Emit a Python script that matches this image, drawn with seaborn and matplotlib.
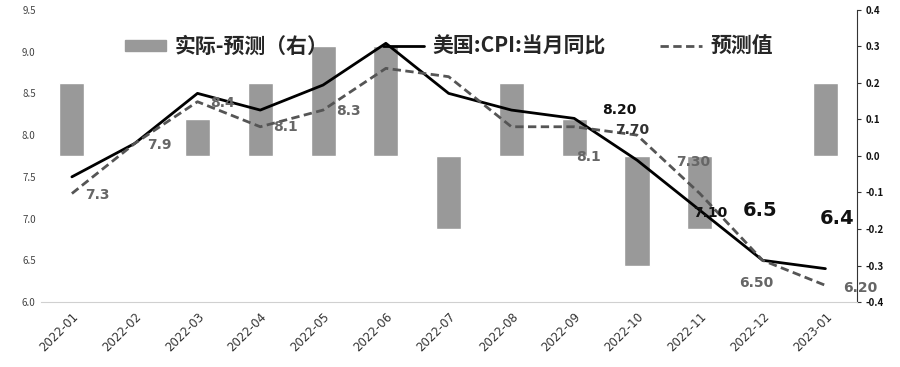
import numpy as np
import pandas as pd
import matplotlib
matplotlib.use("Agg")
import matplotlib.pyplot as plt
import seaborn as sns
from matplotlib.ticker import MultipleLocator, FixedLocator, FormatStrFormatter
from matplotlib.patches import Patch

months = ["2022-01", "2022-02", "2022-03", "2022-04", "2022-05", "2022-06", "2022-07",
          "2022-08", "2022-09", "2022-10", "2022-11", "2022-12", "2023-01"]
cpi_actual = [7.5, 7.9, 8.5, 8.3, 8.6, 9.1, 8.5, 8.3, 8.2, 7.7, 7.1, 6.5, 6.4]
cpi_forecast = [7.3, 7.9, 8.4, 8.1, 8.3, 8.8, 8.7, 8.1, 8.1, 8.0, 7.3, 6.5, 6.2]
diff = [0.2, 0.0, 0.1, 0.2, 0.3, 0.3, -0.2, 0.2, 0.1, -0.3, -0.2, 0.0, 0.2]

# point labels: (text, x index, y on left axis, colour, size)
labels = [
    ("7.3", 0.40, 7.28, "#666666", 10),
    ("7.9", 1.40, 7.88, "#666666", 10),
    ("8.4", 2.40, 8.38, "#666666", 10),
    ("8.1", 3.40, 8.10, "#666666", 10),
    ("8.3", 4.40, 8.29, "#666666", 10),
    ("8.1", 8.22, 7.74, "#666666", 10),
    ("8.20", 8.71, 8.30, "#111111", 10),
    ("7.70", 8.92, 8.06, "#333333", 10),
    ("7.30", 9.89, 7.68, "#666666", 10),
    ("7.10", 10.16, 7.07, "#111111", 10),
    ("6.5", 10.96, 7.10, "#111111", 14),
    ("6.4", 12.18, 7.00, "#111111", 14),
    ("6.50", 10.90, 6.23, "#666666", 10),
    ("6.20", 12.55, 6.17, "#666666", 10),
]

df = pd.DataFrame({"month": months, "pos": np.arange(len(months)),
                   "actual": cpi_actual, "forecast": cpi_forecast, "diff": diff})

sns.set_style("white")
plt.rcParams["font.family"] = ["Noto Sans CJK SC", "DejaVu Sans"]

fig = plt.figure(figsize=(9, 3.67), dpi=100)
ax = fig.add_axes([0.045, 0.177, 0.907, 0.796])
ax2 = ax.twinx()

# bars on the right axis, drawn behind the lines
sns.barplot(data=df, x="pos", y="diff", ax=ax2, color="#999999", width=0.4,
            saturation=1, legend=False)
ax2.set_zorder(ax.get_zorder() - 1)
ax.patch.set_visible(False)

sns.lineplot(data=df, x="pos", y="actual", ax=ax, color="black", lw=2,
             label="美国:CPI:当月同比")
sns.lineplot(data=df, x="pos", y="forecast", ax=ax, color="#555555", lw=2,
             linestyle=(0, (3, 1.6)), label="预测值")

for txt, x, y, c, s in labels:
    ax.text(x, y, txt, color=c, fontsize=s, fontweight="bold", ha="center", va="center",
            family="DejaVu Sans")

ax.set_xlim(-0.5, len(months) - 0.5)
ax.set_ylim(6.0, 9.5)
ax2.set_ylim(-0.4, 0.4)
ax.yaxis.set_major_locator(MultipleLocator(0.5))
ax2.yaxis.set_major_locator(MultipleLocator(0.1))
ax.yaxis.set_major_formatter(FormatStrFormatter("%.1f"))
ax2.yaxis.set_major_formatter(FormatStrFormatter("%.1f"))

ax.set_xticks(np.arange(len(months)))
ax.set_xticklabels(months, rotation=45, fontsize=8.5, color="#333333", family="DejaVu Sans",
                   ha="right", rotation_mode="anchor")
ax.xaxis.set_minor_locator(FixedLocator(np.arange(-0.5, len(months), 1.0)))
ax.tick_params(axis="x", which="major", length=0, pad=6)
ax.tick_params(axis="x", which="minor", length=4, color="#d0d0d0", width=0.8)
ax.tick_params(axis="y", length=0, labelsize=7, labelcolor="#444444")
ax2.tick_params(axis="y", length=3, width=0.8, color="#333333", labelsize=7, labelcolor="#111111")
for lab in ax2.get_yticklabels():
    lab.set_fontweight("bold")

for a in (ax, ax2):
    for side in ("top", "left", "right"):
        a.spines[side].set_visible(False)
    a.set_xlabel("")
    a.set_ylabel("")
ax.spines["bottom"].set_color("#d0d0d0")
ax2.spines["bottom"].set_visible(False)
ax2.spines["right"].set_visible(True)
ax2.spines["right"].set_color("#333333")
ax2.spines["right"].set_linewidth(0.8)

h2, l2 = ax.get_legend_handles_labels()
handles = [Patch(color="#999999")] + h2
names = ["实际-预测（右）"] + l2
ax.legend(handles, names, loc="center", bbox_to_anchor=(0.5, 0.875), ncol=3, frameon=False,
          prop={"size": 15, "weight": "bold"}, handlelength=2.0, handleheight=0.5,
          columnspacing=2.6, handletextpad=0.4)

plt.savefig("out.png", dpi=100)
